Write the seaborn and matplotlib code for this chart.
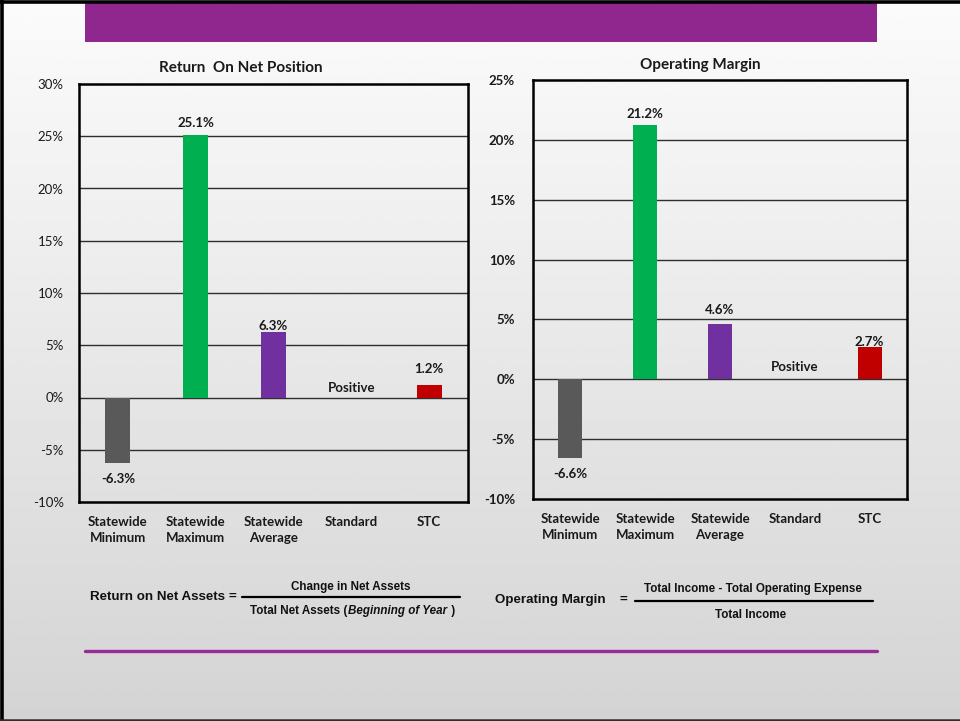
import numpy as np
import pandas as pd
import matplotlib
matplotlib.use("Agg")
import matplotlib.pyplot as plt
from matplotlib import font_manager
from matplotlib.lines import Line2D
from matplotlib.patches import Rectangle
import seaborn as sns

sns.set_theme(style="white")
plt.rcParams["font.family"] = ["Lato", "DejaVu Sans"]

# ---- data -------------------------------------------------------------
categories = ["Statewide\nMinimum", "Statewide\nMaximum", "Statewide\nAverage",
              "Standard", "STC"]
bar_colors = ["#595959", "#00B050", "#7030A0", "#7030A0", "#C00000"]

return_values = [-6.3, 25.1, 6.3, np.nan, 1.2]
margin_values = [-6.6, 21.2, 4.6, np.nan, 2.7]
standard_text = "Positive"

return_ticks = [-10, -5, 0, 5, 10, 15, 20, 25, 30]
margin_ticks = [-10, -5, 0, 5, 10, 15, 20, 25]

W, H = 960, 721
fig = plt.figure(figsize=(W / 100, H / 100), dpi=100)


def fx(px):
    return px / W


def fy(py):
    return 1 - py / H


# ---- slide background -------------------------------------------------
bg = fig.add_axes([0, 0, 1, 1], zorder=-10)
grad = np.linspace(0.985, 0.83, 256)[:, None]
bg.imshow(np.repeat(grad, 4, axis=1), cmap="gray", vmin=0, vmax=1,
          aspect="auto", extent=[0, 1, 0, 1])
bg.set_xlim(0, 1)
bg.set_ylim(0, 1)
bg.axis("off")

# slide frame and decorations
fig.add_artist(Line2D([0, 1], [fy(1.5), fy(1.5)], color="black", lw=2.6,
                      transform=fig.transFigure))
fig.add_artist(Line2D([fx(1.5), fx(1.5)], [0, 1], color="black", lw=2.6,
                      transform=fig.transFigure))
fig.add_artist(Line2D([0, 1], [fy(719.5), fy(719.5)], color="#303030", lw=1.8,
                      transform=fig.transFigure))
fig.add_artist(Rectangle((fx(85), fy(42)), fx(877) - fx(85), fy(3) - fy(42),
                         facecolor="#90278E", edgecolor="none",
                         transform=fig.transFigure))
fig.add_artist(Line2D([fx(85), fx(877)], [fy(651), fy(651)], color="#9B2A98",
                      lw=2.4, transform=fig.transFigure))


def draw_chart(rect, values, ticks, title, title_xy, tick_bold,
               offsets, pos_offset, tick_pad):
    left, top, right, bottom = rect
    ax = fig.add_axes([fx(left), fy(bottom), fx(right) - fx(left),
                       fy(top) - fy(bottom)])
    ax.set_facecolor("none")
    df = pd.DataFrame({"category": categories, "value": values})
    sns.barplot(data=df, x="category", y="value", hue="category",
                order=categories, hue_order=categories, palette=bar_colors,
                width=0.32, saturation=1, legend=False, ax=ax, zorder=3,
                edgecolor="none", linewidth=0)
    ax.set_xlim(-0.5, len(categories) - 0.5)
    ax.set_ylim(ticks[0], ticks[-1])
    ax.set_yticks(ticks)
    ax.set_yticklabels([f"{t}%" for t in ticks],
                       fontweight="bold" if tick_bold else "normal",
                       fontsize=9.5, color="#1a1a1a")
    ax.set_xticks(range(len(categories)))
    ax.set_xticklabels(categories, fontweight="bold", fontsize=9.5,
                       color="#1a1a1a", linespacing=1.45, va="top")
    ax.tick_params(axis="y", length=0, pad=tick_pad)
    ax.tick_params(axis="x", length=0, pad=10)
    ax.set_xlabel("")
    ax.set_ylabel("")
    for t in ticks[1:-1]:
        ax.axhline(t, color="#2e2e2e", lw=1.0, zorder=2)
    for sp in ax.spines.values():
        sp.set_visible(True)
        sp.set_color("black")
        sp.set_linewidth(1.8)

    # value labels
    for i, v in enumerate(values):
        if np.isnan(v):
            ax.annotate(standard_text, (i, 0), xytext=(0, pos_offset),
                        textcoords="offset pixels", ha="center", va="center",
                        fontsize=9.5, fontweight="bold", color="#1a1a1a")
            continue
        off = offsets[i] if v >= 0 else -offsets[i]
        ax.annotate(f"{v:.1f}%", (i, v), xytext=(0, off),
                    textcoords="offset pixels", ha="center", va="center",
                    fontsize=9.5, fontweight="bold", color="#1a1a1a")

    fig.text(fx(title_xy[0]), fy(title_xy[1]), title, ha="center",
             va="center", fontsize=11, fontweight="bold", color="#1a1a1a")
    return ax


draw_chart((79, 84, 468, 502), return_values, return_ticks,
           "Return  On Net Position", (241, 68), False,
           [16, 12, 6, 0, 16], 9, 11)
draw_chart((533, 80, 907, 499), margin_values, margin_ticks,
           "Operating Margin", (700, 65), True,
           [16, 11, 14, 0, 5], 12, 13)

# ---- formulas ---------------------------------------------------------
# a narrow sans for the formula text, when one is installed
names = {f.name for f in font_manager.fontManager.ttflist}
narrow = [n for n in ("Liberation Sans Narrow", "DejaVu Sans Condensed")
          if n in names]
if narrow:
    ffam = [narrow[0], "DejaVu Sans"]
    big, small = 11.5, 10
else:
    ffam = ["Liberation Sans", "DejaVu Sans"]
    big, small = 9.6, 8.4
fc = "#111111"

fig.text(fx(90), fy(597), "Return on Net Assets", ha="left", va="center",
         fontsize=big, fontweight="bold", family=ffam, color=fc)
fig.text(fx(232), fy(597), "=", ha="center", va="center",
         fontsize=big, fontweight="bold", family=ffam, color=fc)
fig.add_artist(Line2D([fx(242), fx(460)], [fy(597), fy(597)], color="black",
                      lw=1.6, transform=fig.transFigure))
fig.text(fx(351), fy(587), "Change in Net Assets", ha="center", va="center",
         fontsize=small, fontweight="bold", family=ffam, color=fc)

# denominator with an italic middle part, laid out piece by piece
renderer = fig.canvas.get_renderer()
pieces = [("Total Net Assets (", "normal"), ("Beginning of Year", "italic"),
          (" )", "normal")]
objs = []
for s, style in pieces:
    t = fig.text(0, fy(611), s, ha="left", va="center", fontsize=small,
                 fontweight="bold", fontstyle=style, family=ffam, color=fc)
    objs.append(t)
widths = [o.get_window_extent(renderer).width for o in objs]
x0 = 352 - sum(widths) / 2
for o, w in zip(objs, widths):
    o.set_x(fx(x0))
    x0 += w + (1 if o is objs[1] else 0)

fig.text(fx(495), fy(600), "Operating Margin", ha="left", va="center",
         fontsize=big, fontweight="bold", family=ffam, color=fc)
fig.text(fx(623), fy(600), "=", ha="center", va="center",
         fontsize=big, fontweight="bold", family=ffam, color=fc)
fig.add_artist(Line2D([fx(635), fx(873)], [fy(601), fy(601)], color="black",
                      lw=1.6, transform=fig.transFigure))
fig.text(fx(753), fy(589), "Total Income - Total Operating Expense",
         ha="center", va="center", fontsize=small, fontweight="bold",
         family=ffam, color=fc)
fig.text(fx(751), fy(615), "Total Income", ha="center", va="center",
         fontsize=small, fontweight="bold", family=ffam, color=fc)

fig.savefig("out.png", dpi=100)
